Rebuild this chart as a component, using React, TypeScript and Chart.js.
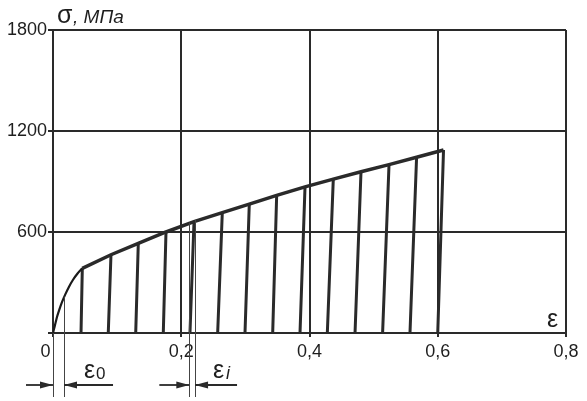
import React, { useEffect, useRef } from "react";
import { Chart, registerables } from "chart.js";

Chart.register(...registerables);

// Initial loading curve (ε, σ MPa)
const initialEps = [0, 0.003, 0.006, 0.01, 0.014, 0.019, 0.025, 0.031, 0.038, 0.0457];
const initialSigma = [0, 45, 92, 140, 183, 228, 275, 315, 352, 384];

// Unloading points: top of each unloading line on the envelope, and where it meets σ = 0
const unloadTopEps = [0.0457, 0.0904, 0.133, 0.1762, 0.2199, 0.264, 0.3061, 0.3488, 0.393, 0.4371, 0.4803, 0.524, 0.567, 0.609];
const unloadTopSigma = [384, 465, 533, 600, 662, 715, 766, 818, 868, 914, 958, 1000, 1044, 1087];
const unloadEndEps = [0.0437, 0.0862, 0.129, 0.172, 0.2136, 0.2568, 0.2994, 0.3426, 0.3852, 0.4278, 0.471, 0.514, 0.5567, 0.6];

// Axis ticks
const xTicks = [0, 0.2, 0.4, 0.6, 0.8];
const yTicks = [0, 600, 1200, 1800];

// Annotation marks (ε position, σ where thin line starts)
const markEps = [0, 0.0172, 0.2126, 0.2215];
const markSigma = [0, 216, 655, 672];

const INK = "#2a2a2a";
const TEXT = "#1e1e1e";
const FONT = "'Liberation Sans', Arial, sans-serif";

const annotationPlugin = {
  id: "annot",
  afterDraw(chart: any) {
    const { ctx, scales, chartArea } = chart;
    const xs = scales.x;
    const ys = scales.y;
    const bottom = chartArea.bottom + 64;
    const arrowY = chartArea.bottom + 52;
    ctx.save();
    // thin marking lines
    ctx.strokeStyle = "#444";
    ctx.lineWidth = 1;
    markEps.forEach((e, i) => {
      const px = Math.round(xs.getPixelForValue(e)) + 0.5;
      ctx.beginPath();
      ctx.moveTo(px, ys.getPixelForValue(markSigma[i]));
      ctx.lineTo(px, bottom);
      ctx.stroke();
    });
    // arrows
    const arrow = (from: number, to: number) => {
      ctx.strokeStyle = INK;
      ctx.fillStyle = INK;
      ctx.lineWidth = 1.8;
      ctx.beginPath();
      ctx.moveTo(from, arrowY);
      ctx.lineTo(to, arrowY);
      ctx.stroke();
      const dir = to > from ? 1 : -1;
      ctx.beginPath();
      ctx.moveTo(to, arrowY);
      ctx.lineTo(to - dir * 13, arrowY - 3.5);
      ctx.lineTo(to - dir * 13, arrowY + 3.5);
      ctx.closePath();
      ctx.fill();
    };
    const p0 = xs.getPixelForValue(markEps[0]);
    const p1 = xs.getPixelForValue(markEps[1]);
    const p2 = xs.getPixelForValue(markEps[2]);
    const p3 = xs.getPixelForValue(markEps[3]);
    arrow(p0 - 27, p0);
    arrow(p1 + 49, p1);
    arrow(p2 - 30, p2);
    arrow(p3 + 42, p3);

    ctx.fillStyle = TEXT;
    ctx.textBaseline = "alphabetic";
    ctx.textAlign = "left";
    // ε0
    ctx.font = `25px ${FONT}`;
    ctx.fillText("ε", p1 + 20, chartArea.bottom + 45);
    ctx.font = `17px ${FONT}`;
    ctx.fillText("0", p1 + 32, chartArea.bottom + 46);
    // εi
    ctx.font = `25px ${FONT}`;
    ctx.fillText("ε", p3 + 18, chartArea.bottom + 45);
    ctx.font = `italic 18px ${FONT}`;
    ctx.fillText("i", p3 + 31, chartArea.bottom + 46);
    // axis label ε
    ctx.font = `25px ${FONT}`;
    ctx.fillText("ε", chartArea.right - 19, chartArea.bottom - 6);
    // title σ, МПа
    ctx.font = `25px ${FONT}`;
    ctx.fillText("σ", chartArea.left + 4, chartArea.top - 7);
    ctx.font = `italic 19px ${FONT}`;
    ctx.fillText(", МПа", chartArea.left + 20, chartArea.top - 7);
    ctx.restore();
  },
};

export default function App() {
  const ref = useRef<HTMLCanvasElement>(null);
  useEffect(() => {
    if (!ref.current) return;
    const unload: any[] = [];
    unloadTopEps.forEach((e, i) => {
      unload.push({ x: e, y: unloadTopSigma[i] });
      unload.push({ x: unloadEndEps[i], y: 0 });
      unload.push({ x: unloadEndEps[i], y: null });
    });
    const chart = new Chart(ref.current, {
      type: "line",
      data: {
        datasets: [
          {
            data: initialEps.map((e, i) => ({ x: e, y: initialSigma[i] })),
            borderColor: "#1a1a1a",
            borderWidth: 2.2,
            pointRadius: 0,
            cubicInterpolationMode: "monotone",
          },
          {
            data: unloadTopEps.map((e, i) => ({ x: e, y: unloadTopSigma[i] })),
            borderColor: INK,
            borderWidth: 3.5,
            pointRadius: 0,
            tension: 0,
          },
          {
            data: unload,
            borderColor: INK,
            borderWidth: 3,
            pointRadius: 0,
            spanGaps: false,
            tension: 0,
          },
        ],
      },
      options: {
        animation: false,
        responsive: false,
        layout: { padding: { left: 0, top: 30, right: 21, bottom: 0 } },
        plugins: { legend: { display: false }, tooltip: { enabled: false }, title: { display: false } },
        scales: {
          x: {
            type: "linear",
            min: 0,
            max: 0.8,
            afterBuildTicks: (s: any) => {
              s.ticks = xTicks.map((v) => ({ value: v }));
            },
            afterFit: (s: any) => {
              s.height = 68;
            },
            grid: { color: INK, lineWidth: 2, tickLength: 4, drawTicks: true },
            border: { color: INK, width: 2 },
            ticks: {
              color: TEXT,
              font: { family: FONT, size: 18 },
              padding: 4,
              maxRotation: 0,
              autoSkip: false,
              callback: (v: any) => (Number(v) === 0 ? "0   " : String(Number(v)).replace(".", ",")),
            },
          },
          y: {
            type: "linear",
            min: 0,
            max: 1800,
            afterBuildTicks: (s: any) => {
              s.ticks = yTicks.map((v) => ({ value: v }));
            },
            afterFit: (s: any) => {
              s.width = 53;
            },
            grid: { color: INK, lineWidth: 2, tickLength: 5, drawTicks: true },
            border: { color: INK, width: 2 },
            ticks: {
              color: TEXT,
              font: { family: FONT, size: 18 },
              padding: 1,
              autoSkip: false,
              callback: (v: any) => (Number(v) === 0 ? "" : String(v)),
            },
          },
        },
      },
      plugins: [annotationPlugin],
    });
    return () => chart.destroy();
  }, []);
  return (
    <div style={{ position: "fixed", left: 0, top: 0, width: 587, height: 401, background: "#fff" }}>
      <canvas ref={ref} width={587} height={401} />
    </div>
  );
}
